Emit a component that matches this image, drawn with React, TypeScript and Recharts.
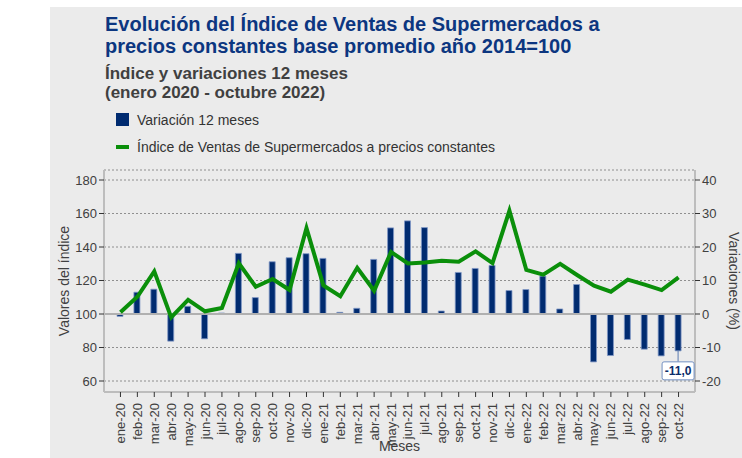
import React from 'react';
import {
  ComposedChart, Bar, Line, XAxis, YAxis, CartesianGrid, ReferenceLine, Legend, LabelList,
} from 'recharts';

const months = [
  'ene-20', 'feb-20', 'mar-20', 'abr-20', 'may-20', 'jun-20', 'jul-20', 'ago-20', 'sep-20', 'oct-20', 'nov-20', 'dic-20',
  'ene-21', 'feb-21', 'mar-21', 'abr-21', 'may-21', 'jun-21', 'jul-21', 'ago-21', 'sep-21', 'oct-21', 'nov-21', 'dic-21',
  'ene-22', 'feb-22', 'mar-22', 'abr-22', 'may-22', 'jun-22', 'jul-22', 'ago-22', 'sep-22', 'oct-22',
];

const variacion = [
  -0.7, 6.5, 7.4, -8.1, 2.3, -7.4, 0.3, 18.1, 4.9, 15.6, 16.8, 18.0,
  16.6, 0.5, 1.7, 16.3, 25.7, 27.8, 25.8, 0.9, 12.4, 13.6, 14.5, 7.0,
  7.3, 11.3, 1.5, 8.8, -14.3, -12.4, -7.6, -10.5, -12.5, -11.0,
];

const indice = [
  101.0, 110.3, 125.5, 98.0, 108.4, 101.6, 103.6, 130.3, 116.3, 120.9, 114.3, 151.3,
  117.1, 110.6, 127.6, 113.9, 137.0, 130.2, 130.8, 131.8, 131.2, 137.4, 130.4, 161.7,
  126.3, 123.5, 129.9, 123.3, 116.9, 113.3, 120.5, 117.5, 114.3, 121.9,
];

const leftTicks = [60, 80, 100, 120, 140, 160, 180];
const rightTicks = [-20, -10, 0, 10, 20, 30, 40];

const data = months.map((m, i) => ({ mes: m, variacion: variacion[i], indice: indice[i] }));

const FONT = '"Liberation Sans", Arial, sans-serif';
const BAR_COLOR = '#002b70';
const LINE_COLOR = '#0a8f0a';
const TEXT = '#404040';

const XTick = (props: any) => {
  const { x, y, payload } = props;
  return (
    <text
      transform={`translate(${x + 4.5},${y + 4}) rotate(-90)`}
      textAnchor="end"
      fontSize={13}
      fontFamily={FONT}
      fill={TEXT}
    >
      {payload.value}
    </text>
  );
};

const LastLabel = (props: any) => {
  const { index, value } = props;
  if (index !== months.length - 1) return null;
  const vb = props.viewBox || {};
  const x = props.x ?? vb.x;
  const y = props.y ?? vb.y;
  const width = props.width ?? vb.width;
  const height = props.height ?? vb.height;
  const cx = x + width / 2;
  const bottom = Math.max(y, y + height);
  const boxTop = bottom + 11;
  const txt = Number(value).toFixed(1).replace('.', ',');
  return (
    <g>
      <line x1={cx} y1={bottom} x2={cx} y2={boxTop} stroke="#5b7bb0" strokeWidth={1} />
      <rect x={cx - 16} y={boxTop} width={32} height={18} rx={2} fill="#ffffff" stroke="#7390c2" strokeWidth={1} />
      <text x={cx} y={boxTop + 13.5} textAnchor="middle" fontWeight="bold" fontSize={12} fontFamily={FONT} fill="#0b2d6b">
        {txt}
      </text>
    </g>
  );
};

const LegendContent = (props: any) => {
  const payload = props.payload || [];
  return (
    <div style={{ fontFamily: FONT, fontSize: 14, color: '#333' }}>
      {payload.map((p: any, i: number) => (
        <div key={i} style={{ display: 'flex', alignItems: 'center', height: 27 }}>
          {p.type === 'rect' || p.dataKey === 'variacion' ? (
            <span style={{ display: 'inline-block', width: 13, height: 13, background: BAR_COLOR, marginRight: 8 }} />
          ) : (
            <span style={{ display: 'inline-block', width: 13, height: 4, background: LINE_COLOR, marginRight: 8 }} />
          )}
          <span>{p.value}</span>
        </div>
      ))}
    </div>
  );
};

export default function App() {
  return (
    <div style={{ position: 'absolute', left: 0, top: 0, width: 742, height: 458, background: '#ffffff', overflow: 'hidden' }}>
      <div style={{ position: 'absolute', left: 50, top: 7, width: 692, height: 451, background: '#ebebeb' }} />
      <div style={{ position: 'absolute', left: 105, top: 13, fontFamily: FONT, fontWeight: 'bold', fontSize: 20, lineHeight: '22px', color: '#0c3680' }}>
        <div>Evolución del Índice de Ventas de Supermercados a</div>
        <div>precios constantes base promedio año 2014=100</div>
      </div>
      <div style={{ position: 'absolute', left: 105, top: 64, fontFamily: FONT, fontWeight: 'bold', fontSize: 17, lineHeight: '19px', color: TEXT }}>
        <div>Índice y variaciones 12 meses</div>
        <div>(enero 2020 - octubre 2022)</div>
      </div>
      <div style={{ position: 'absolute', left: 0, top: 0 }}>
        <ComposedChart
          width={742}
          height={458}
          data={data}
          margin={{ top: 170, right: 7, bottom: 31, left: 64 }}
        >
          <Legend
            layout="vertical"
            align="center"
            verticalAlign="middle"
            content={<LegendContent />}
            wrapperStyle={{ position: 'absolute', left: 116, top: 106, width: 500, height: 54 }}
          />
          <CartesianGrid
            yAxisId="left"
            vertical={false}
            stroke="#777777"
            strokeDasharray="2 2"
            strokeWidth={0.8}
          />
          <XAxis
            dataKey="mes"
            interval={0}
            padding={{ left: 8, right: 8 }}
            height={35}
            tick={<XTick />}
            tickSize={5}
            tickLine={{ stroke: '#333' }}
            axisLine={{ stroke: '#bdbdbd', strokeWidth: 2 }}
            label={{ value: 'Meses', position: 'insideBottom', offset: -24, fontSize: 14, fontFamily: FONT, fill: TEXT }}
          />
          <YAxis
            yAxisId="left"
            orientation="left"
            domain={[60, 180]}
            ticks={leftTicks}
            width={40}
            padding={{ top: 10, bottom: 11 }}
            tickSize={5}
            tickLine={{ stroke: '#333' }}
            axisLine={{ stroke: '#bdbdbd', strokeWidth: 2 }}
            tick={{ fill: TEXT, fontSize: 13, fontFamily: FONT }}
            label={{ value: 'Valores del índice', angle: -90, position: 'insideLeft', offset: 0, style: { textAnchor: 'middle' }, fontSize: 14, fontFamily: FONT, fill: TEXT }}
          />
          <YAxis
            yAxisId="right"
            orientation="right"
            domain={[-20, 40]}
            ticks={rightTicks}
            width={40}
            padding={{ top: 10, bottom: 11 }}
            tickSize={5}
            tickLine={{ stroke: '#333' }}
            axisLine={{ stroke: '#bdbdbd', strokeWidth: 2 }}
            tick={{ fill: TEXT, fontSize: 13, fontFamily: FONT }}
            label={{ value: 'Variaciones (%)', angle: 90, position: 'insideRight', offset: 1, style: { textAnchor: 'middle' }, fontSize: 14, fontFamily: FONT, fill: TEXT }}
          />
          <ReferenceLine yAxisId="left" y={100} stroke="#b0b0b0" strokeWidth={2} />
          <Bar
            yAxisId="right"
            dataKey="variacion"
            name="Variación 12 meses"
            fill={BAR_COLOR}
            stroke="#8098c6"
            strokeWidth={0.8}
            barSize={6}
            isAnimationActive={false}
            legendType="rect"
          >
            <LabelList dataKey="variacion" content={<LastLabel />} />
          </Bar>
          <Line
            yAxisId="left"
            type="linear"
            dataKey="indice"
            name="Índice de Ventas de Supermercados a precios constantes"
            stroke={LINE_COLOR}
            strokeWidth={4}
            dot={false}
            activeDot={false}
            isAnimationActive={false}
            legendType="plainline"
          />
        </ComposedChart>
      </div>
    </div>
  );
}
